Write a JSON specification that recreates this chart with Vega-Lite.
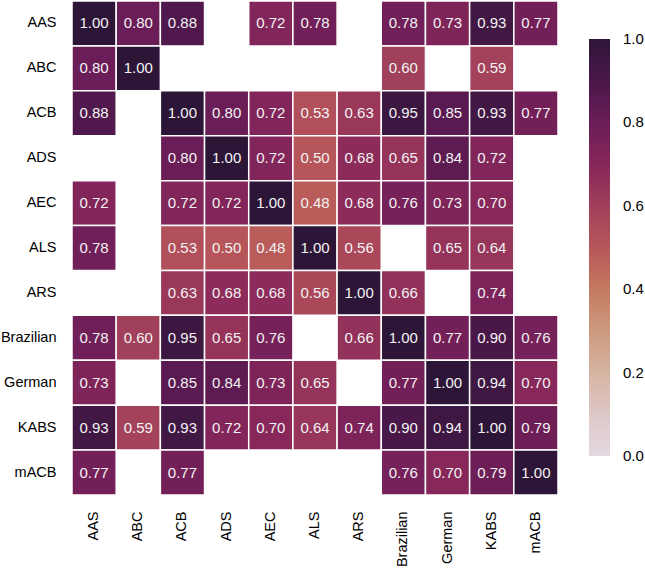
{
  "$schema": "https://vega.github.io/schema/vega-lite/v6.json",
  "width": 486,
  "height": 494,
  "autosize": {"type": "none"},
  "padding": {"left": 72, "top": 1, "right": 87, "bottom": 75},
  "background": "white",
  "config": {"view": {"stroke": null}, "font": "Liberation Sans"},
  "data": {"values": [
    {"row": "AAS", "col": "AAS", "value": 1.00},
    {"row": "AAS", "col": "ABC", "value": 0.80},
    {"row": "AAS", "col": "ACB", "value": 0.88},
    {"row": "AAS", "col": "AEC", "value": 0.72},
    {"row": "AAS", "col": "ALS", "value": 0.78},
    {"row": "AAS", "col": "Brazilian", "value": 0.78},
    {"row": "AAS", "col": "German", "value": 0.73},
    {"row": "AAS", "col": "KABS", "value": 0.93},
    {"row": "AAS", "col": "mACB", "value": 0.77},
    {"row": "ABC", "col": "AAS", "value": 0.80},
    {"row": "ABC", "col": "ABC", "value": 1.00},
    {"row": "ABC", "col": "Brazilian", "value": 0.60},
    {"row": "ABC", "col": "KABS", "value": 0.59},
    {"row": "ACB", "col": "AAS", "value": 0.88},
    {"row": "ACB", "col": "ACB", "value": 1.00},
    {"row": "ACB", "col": "ADS", "value": 0.80},
    {"row": "ACB", "col": "AEC", "value": 0.72},
    {"row": "ACB", "col": "ALS", "value": 0.53},
    {"row": "ACB", "col": "ARS", "value": 0.63},
    {"row": "ACB", "col": "Brazilian", "value": 0.95},
    {"row": "ACB", "col": "German", "value": 0.85},
    {"row": "ACB", "col": "KABS", "value": 0.93},
    {"row": "ACB", "col": "mACB", "value": 0.77},
    {"row": "ADS", "col": "ACB", "value": 0.80},
    {"row": "ADS", "col": "ADS", "value": 1.00},
    {"row": "ADS", "col": "AEC", "value": 0.72},
    {"row": "ADS", "col": "ALS", "value": 0.50},
    {"row": "ADS", "col": "ARS", "value": 0.68},
    {"row": "ADS", "col": "Brazilian", "value": 0.65},
    {"row": "ADS", "col": "German", "value": 0.84},
    {"row": "ADS", "col": "KABS", "value": 0.72},
    {"row": "AEC", "col": "AAS", "value": 0.72},
    {"row": "AEC", "col": "ACB", "value": 0.72},
    {"row": "AEC", "col": "ADS", "value": 0.72},
    {"row": "AEC", "col": "AEC", "value": 1.00},
    {"row": "AEC", "col": "ALS", "value": 0.48},
    {"row": "AEC", "col": "ARS", "value": 0.68},
    {"row": "AEC", "col": "Brazilian", "value": 0.76},
    {"row": "AEC", "col": "German", "value": 0.73},
    {"row": "AEC", "col": "KABS", "value": 0.70},
    {"row": "ALS", "col": "AAS", "value": 0.78},
    {"row": "ALS", "col": "ACB", "value": 0.53},
    {"row": "ALS", "col": "ADS", "value": 0.50},
    {"row": "ALS", "col": "AEC", "value": 0.48},
    {"row": "ALS", "col": "ALS", "value": 1.00},
    {"row": "ALS", "col": "ARS", "value": 0.56},
    {"row": "ALS", "col": "German", "value": 0.65},
    {"row": "ALS", "col": "KABS", "value": 0.64},
    {"row": "ARS", "col": "ACB", "value": 0.63},
    {"row": "ARS", "col": "ADS", "value": 0.68},
    {"row": "ARS", "col": "AEC", "value": 0.68},
    {"row": "ARS", "col": "ALS", "value": 0.56},
    {"row": "ARS", "col": "ARS", "value": 1.00},
    {"row": "ARS", "col": "Brazilian", "value": 0.66},
    {"row": "ARS", "col": "KABS", "value": 0.74},
    {"row": "Brazilian", "col": "AAS", "value": 0.78},
    {"row": "Brazilian", "col": "ABC", "value": 0.60},
    {"row": "Brazilian", "col": "ACB", "value": 0.95},
    {"row": "Brazilian", "col": "ADS", "value": 0.65},
    {"row": "Brazilian", "col": "AEC", "value": 0.76},
    {"row": "Brazilian", "col": "ARS", "value": 0.66},
    {"row": "Brazilian", "col": "Brazilian", "value": 1.00},
    {"row": "Brazilian", "col": "German", "value": 0.77},
    {"row": "Brazilian", "col": "KABS", "value": 0.90},
    {"row": "Brazilian", "col": "mACB", "value": 0.76},
    {"row": "German", "col": "AAS", "value": 0.73},
    {"row": "German", "col": "ACB", "value": 0.85},
    {"row": "German", "col": "ADS", "value": 0.84},
    {"row": "German", "col": "AEC", "value": 0.73},
    {"row": "German", "col": "ALS", "value": 0.65},
    {"row": "German", "col": "Brazilian", "value": 0.77},
    {"row": "German", "col": "German", "value": 1.00},
    {"row": "German", "col": "KABS", "value": 0.94},
    {"row": "German", "col": "mACB", "value": 0.70},
    {"row": "KABS", "col": "AAS", "value": 0.93},
    {"row": "KABS", "col": "ABC", "value": 0.59},
    {"row": "KABS", "col": "ACB", "value": 0.93},
    {"row": "KABS", "col": "ADS", "value": 0.72},
    {"row": "KABS", "col": "AEC", "value": 0.70},
    {"row": "KABS", "col": "ALS", "value": 0.64},
    {"row": "KABS", "col": "ARS", "value": 0.74},
    {"row": "KABS", "col": "Brazilian", "value": 0.90},
    {"row": "KABS", "col": "German", "value": 0.94},
    {"row": "KABS", "col": "KABS", "value": 1.00},
    {"row": "KABS", "col": "mACB", "value": 0.79},
    {"row": "mACB", "col": "AAS", "value": 0.77},
    {"row": "mACB", "col": "ACB", "value": 0.77},
    {"row": "mACB", "col": "Brazilian", "value": 0.76},
    {"row": "mACB", "col": "German", "value": 0.70},
    {"row": "mACB", "col": "KABS", "value": 0.79},
    {"row": "mACB", "col": "mACB", "value": 1.00}
  ]},
  "encoding": {
    "x": {
      "field": "col", "type": "nominal",
      "sort": ["AAS", "ABC", "ACB", "ADS", "AEC", "ALS", "ARS", "Brazilian", "German", "KABS", "mACB"],
      "scale": {"domain": ["AAS", "ABC", "ACB", "ADS", "AEC", "ALS", "ARS", "Brazilian", "German", "KABS", "mACB"], "paddingInner": 0, "paddingOuter": 0},
      "axis": {"title": null, "orient": "bottom", "ticks": false, "domain": false, "labelAngle": -90, "labelAlign": "right", "labelBaseline": "middle", "labelPadding": 16, "labelFontSize": 14.5, "labelColor": "#000000"}
    },
    "y": {
      "field": "row", "type": "nominal",
      "sort": ["AAS", "ABC", "ACB", "ADS", "AEC", "ALS", "ARS", "Brazilian", "German", "KABS", "mACB"],
      "scale": {"domain": ["AAS", "ABC", "ACB", "ADS", "AEC", "ALS", "ARS", "Brazilian", "German", "KABS", "mACB"], "paddingInner": 0, "paddingOuter": 0},
      "axis": {"title": null, "ticks": false, "domain": false, "labelPadding": 16, "labelFontSize": 14.5, "labelColor": "#000000"}
    }
  },
  "layer": [
    {
      "mark": {"type": "rect", "stroke": "white", "strokeWidth": 1.5},
      "encoding": {
        "color": {
          "field": "value", "type": "quantitative",
          "scale": {
            "domain": [0, 0.1, 0.2, 0.3, 0.4, 0.5, 0.6, 0.7, 0.8, 0.9, 1.0],
            "range": ["#e2d9e2", "#dcc8c6", "#d5b4a2", "#cc9a7f", "#c37a60", "#b7565a", "#a1405a", "#87275a", "#6b1d57", "#4a1749", "#2d1538"]
          },
          "legend": {
            "title": null, "orient": "none", "direction": "vertical",
            "legendX": 517, "legendY": 38,
            "gradientLength": 417, "gradientThickness": 21, "gradientStrokeWidth": 0,
            "values": [0, 0.2, 0.4, 0.6, 0.8, 1.0], "format": ".1f",
            "labelFontSize": 15, "labelOffset": 13, "labelColor": "#000000",
            "labelBaseline": "middle",
            "encode": {"labels": {"update": {"baseline": {"value": "middle"}}}}
          }
        }
      }
    },
    {
      "mark": {"type": "text", "fontSize": 15, "color": "#f2f2f2"},
      "encoding": {
        "text": {"field": "value", "type": "quantitative", "format": ".2f"}
      }
    }
  ]
}
